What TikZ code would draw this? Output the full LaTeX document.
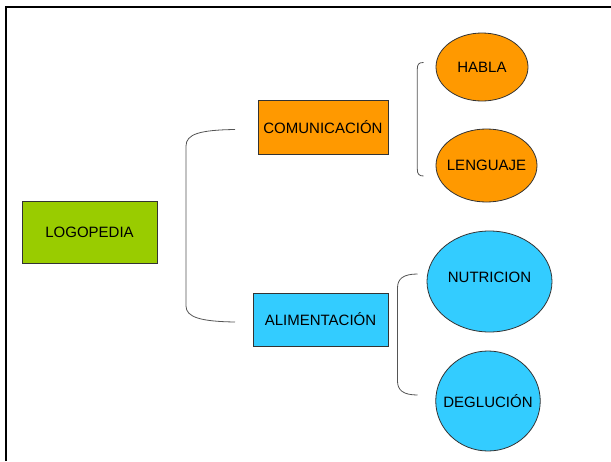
\documentclass[tikz,border=0pt]{standalone}
\usepackage{fontspec}
\setmainfont{Liberation Sans}
\usetikzlibrary{shapes.geometric}
\definecolor{lgreen}{HTML}{99CC00}
\definecolor{lorange}{HTML}{FF9900}
\definecolor{lblue}{HTML}{33CCFF}
\definecolor{edge}{HTML}{333333}
\definecolor{brk}{HTML}{555555}
\begin{document}
\begin{tikzpicture}[x=1pt,y=-1pt,
  box/.style={draw=edge,line width=0.8pt,rectangle,inner sep=0pt,font=\fontsize{15}{18}\selectfont},
  oval/.style={draw=edge,line width=0.8pt,ellipse,inner sep=0pt},
  ovaltext/.style={label={[font=\fontsize{15}{18}\selectfont,inner sep=0pt]center:#1}},
  brace/.style={draw=brk,line width=0.8pt}]
\useasboundingbox (0,0) rectangle (611,461);
\fill[white] (0,0) rectangle (611,461);
% frame
\coordinate (fa) at (6,461);
\coordinate (fb) at (6,7);
\coordinate (fc) at (611,7);
\draw[line width=2.3pt,black] (fa) -- (fb) -- (fc);
% boxes
\node[box,fill=lgreen,minimum width=135,minimum height=62] (logo) at (89.5,232) {LOGOPEDIA};
\node[box,fill=lorange,minimum width=130,minimum height=54] (com) at (323,127) {COMUNICACIÓN};
\node[box,fill=lblue,minimum width=135,minimum height=53] (ali) at (320.5,319.5) {ALIMENTACIÓN};
% ellipses
\node[oval,fill=lorange,minimum width=92,minimum height=68,ovaltext={HABLA}] (hab) at (482,67) {};
\node[oval,fill=lorange,minimum width=101,minimum height=73,ovaltext={LENGUAJE}] (len) at (486.5,165.5) {};
\node[oval,fill=lblue,minimum width=125,minimum height=101,label={[font=\fontsize{15}{18}\selectfont,inner sep=0pt,yshift=4.5pt]center:NUTRICION}] (nut) at (489.5,281.5) {};
\node[oval,fill=lblue,minimum width=104.5,minimum height=100,ovaltext={DEGLUCIÓN}] (deg) at (488,401) {};
% big bracket
\coordinate (b1) at (235,129.5);
\coordinate (b2) at (235,322);
\draw[brace] (b1) .. controls (200,130) and (186,134) .. (186,146)
  -- (186,306) .. controls (186,317) and (200,321.5) .. (b2);
% upper small bracket
\coordinate (c1) at (423.5,62.5);
\coordinate (c2) at (423.5,176);
\draw[brace] (c1) .. controls (419,62.5) and (417.3,64) .. (417.3,69)
  -- (417.3,169) .. controls (417.3,174) and (419,176) .. (c2);
% lower bracket
\coordinate (d1) at (417.5,274);
\coordinate (d2) at (417.5,395);
\draw[brace] (d1) .. controls (403,274) and (397.5,279) .. (397.5,288)
  -- (397.5,381) .. controls (397.5,390) and (403,395) .. (d2);
\end{tikzpicture}
\end{document}
